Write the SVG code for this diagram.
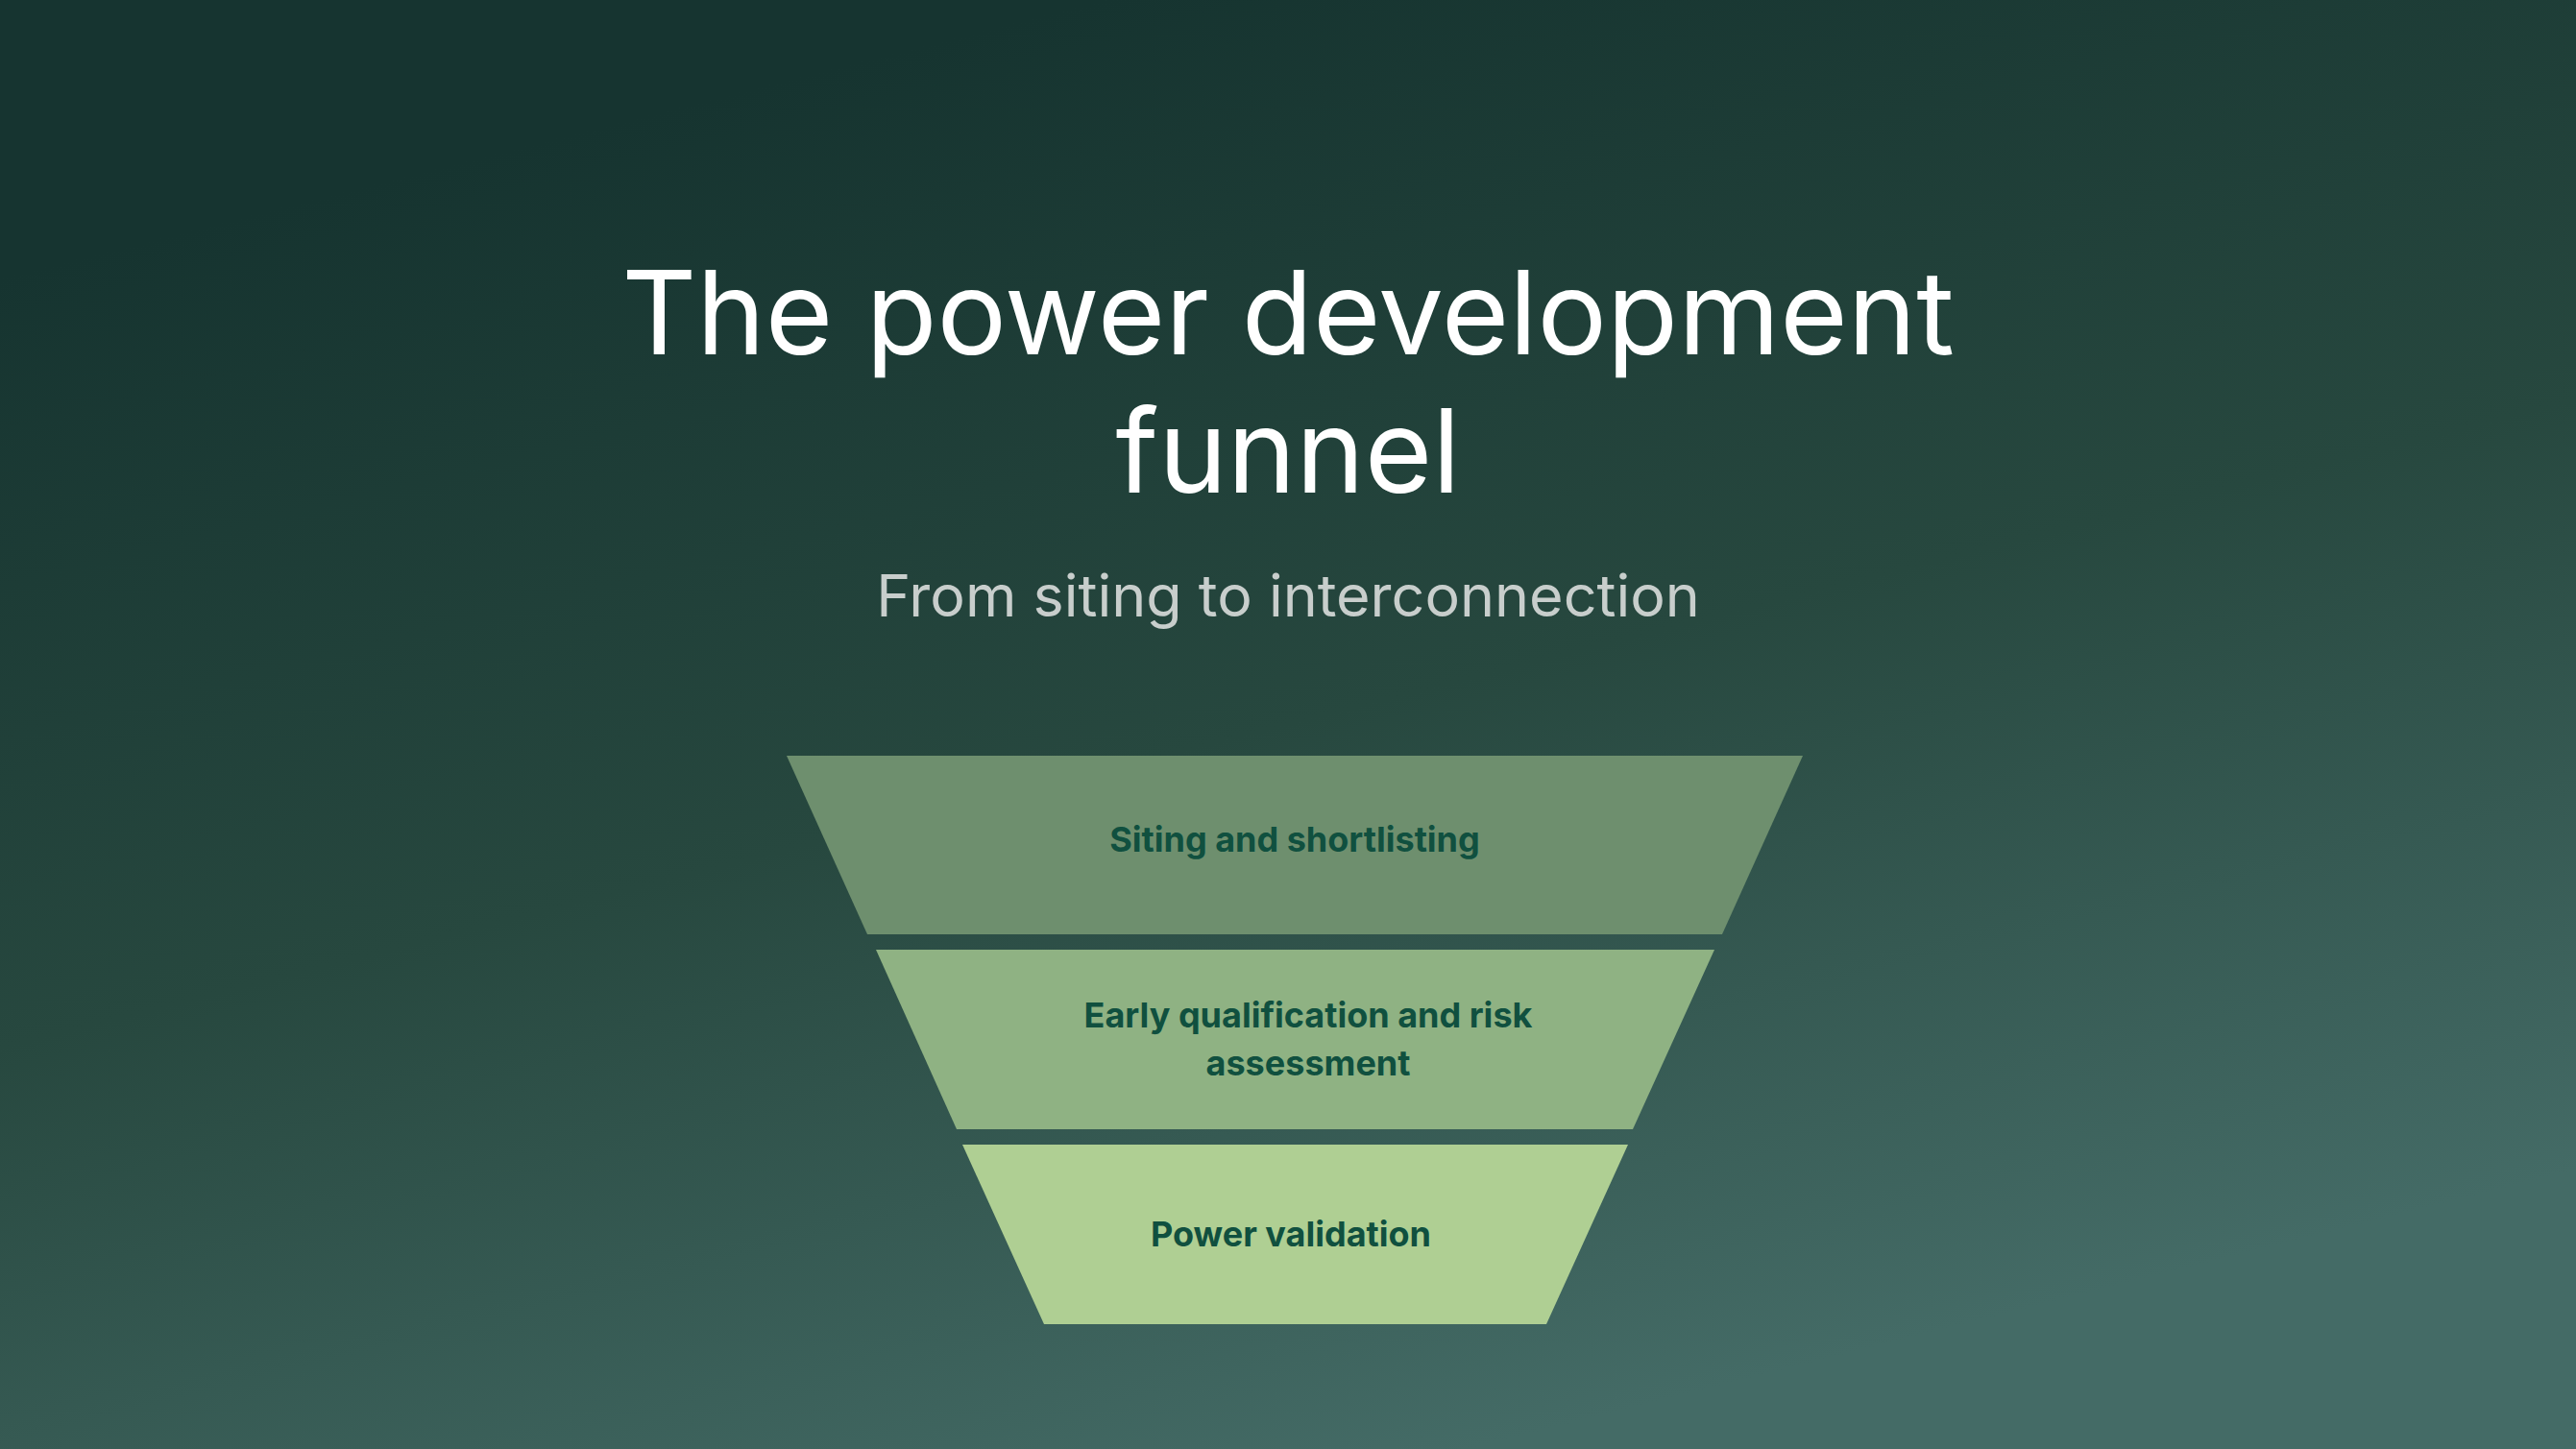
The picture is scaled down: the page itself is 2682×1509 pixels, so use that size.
<svg xmlns="http://www.w3.org/2000/svg" width="2682" height="1509" viewBox="0 0 2682 1509">
  <defs>
    <linearGradient id="bg" gradientUnits="userSpaceOnUse" x1="1150" y1="0" x2="1530" y2="1509">
      <stop offset="0" stop-color="#163430"/>
      <stop offset="0.5" stop-color="#27483f"/>
      <stop offset="1" stop-color="#446b66"/>
    </linearGradient>
    <style>
      .title { font-family: Inter, "Liberation Sans", sans-serif; font-size: 121px; fill: #ffffff; text-anchor: middle; }
      .sub { font-family: Inter, "Liberation Sans", sans-serif; font-size: 61px; fill: #c8cecc; text-anchor: middle; }
      .lbl { font-family: Inter, "Liberation Sans", sans-serif; font-size: 36px; font-weight: 700; fill: #10503f; text-anchor: middle; }
    </style>
  </defs>
  <rect x="0" y="0" width="2682" height="1509" fill="url(#bg)"/>
  <g id="title">
    <text class="title" x="1341" y="369">The power development</text>
    <text class="title" x="1341" y="513">funnel</text>
  </g>
  <g id="subtitle">
    <text class="sub" x="1341" y="642">From siting to interconnection</text>
  </g>
  <g id="stage1">
    <polygon points="819,787 1877,787 1793,973 903,973" fill="#6e8f6e"/>
    <text class="lbl" x="1348" y="887">Siting and shortlisting</text>
  </g>
  <g id="stage2">
    <polygon points="912,989 1785,989 1700,1176 996,1176" fill="#8fb283"/>
    <text class="lbl" x="1362" y="1070">Early qualification and risk</text>
    <text class="lbl" x="1362" y="1120">assessment</text>
  </g>
  <g id="stage3">
    <polygon points="1002,1192 1695,1192 1610,1379 1087,1379" fill="#afcf93"/>
    <text class="lbl" x="1344" y="1298">Power validation</text>
  </g>
  <g id="connectors"/>
</svg>
